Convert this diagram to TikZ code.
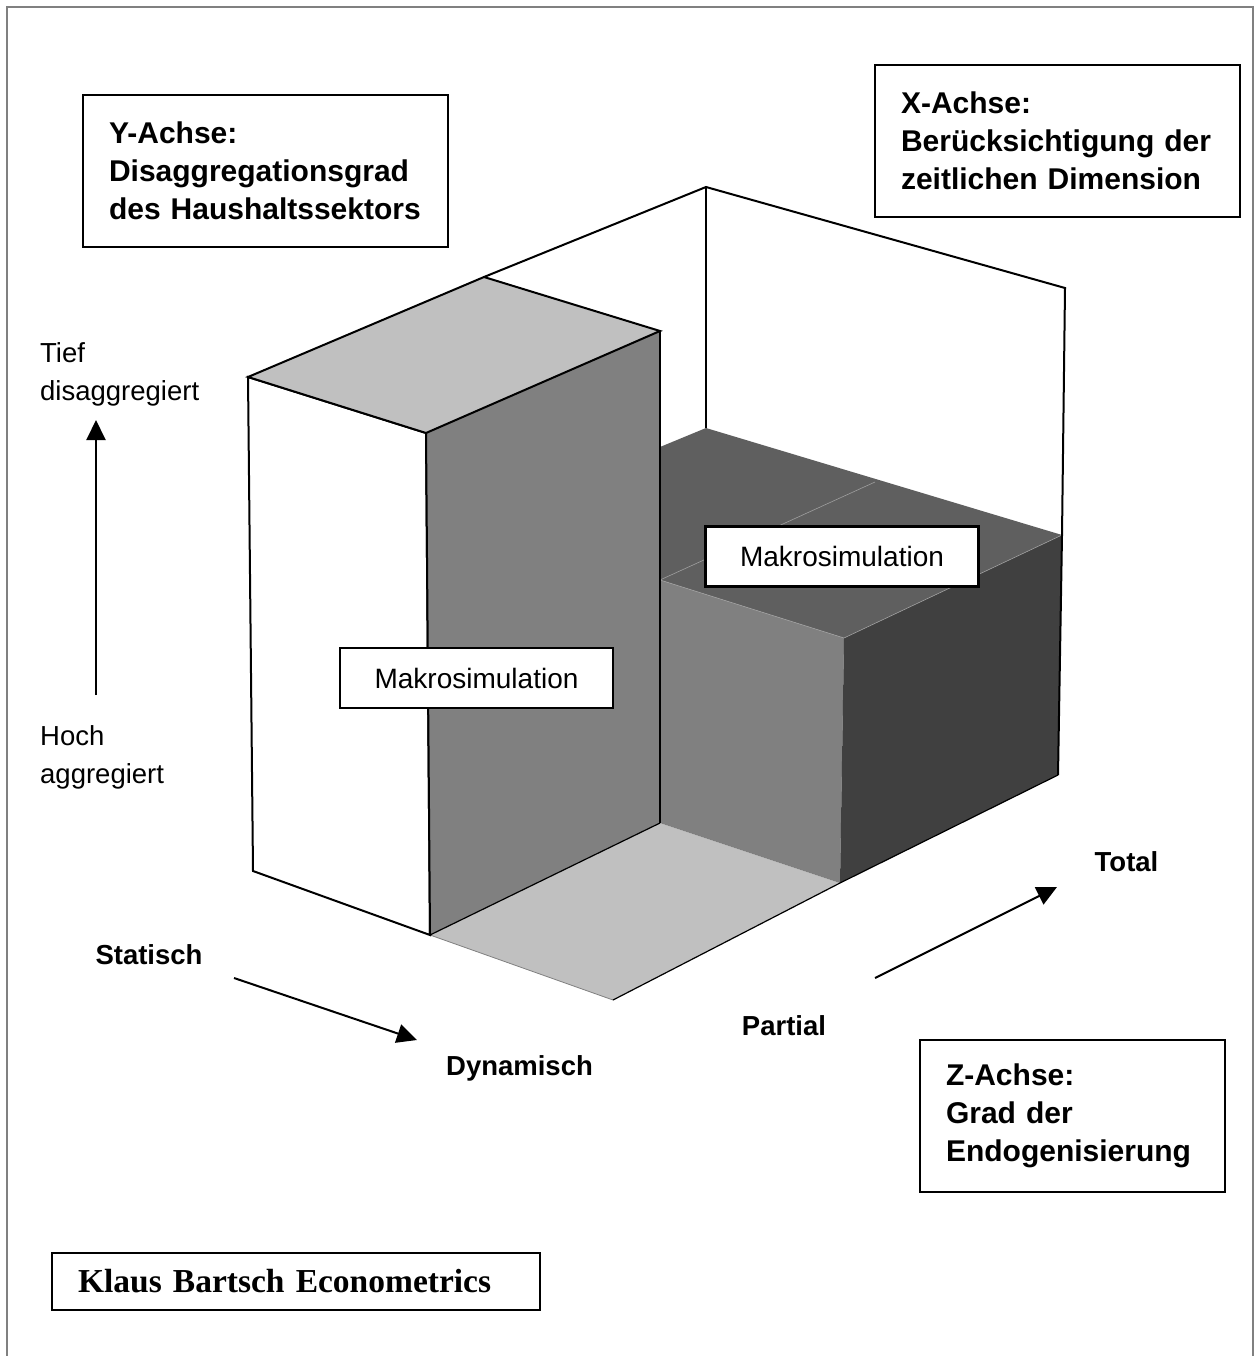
\documentclass[tikz,border=0pt]{standalone}
\usepackage{fontspec}
\setmainfont{Liberation Sans}
\newfontfamily\signfont{Liberation Serif}
\usetikzlibrary{arrows.meta, positioning}
\definecolor{lightface}{HTML}{C0C0C0}
\definecolor{midface}{HTML}{808080}
\definecolor{topface}{HTML}{5F5F5F}
\definecolor{darkface}{HTML}{404040}
\tikzset{
	>={Triangle[length=20pt, width=19pt]},
	axisbox/.style={draw, line width=2.5pt, align=left, minimum height=152pt, inner xsep=26pt,
		font=\fontsize{30}{38}\selectfont\bfseries},
	simbox/.style={draw, fill=white, line width=2.5pt, minimum width=273pt, minimum height=60pt,
		font=\fontsize{28}{34}\selectfont},
	axislabel/.style={inner sep=0pt, font=\fontsize{27.5}{38}\selectfont\bfseries},
	levellabel/.style={inner sep=0pt, anchor=west, align=left, font=\fontsize{27.5}{38}\selectfont},
	axisarrow/.style={->, line width=2pt},
	cubeedge/.style={line width=2pt, line join=miter},
	thinedge/.style={line width=1.2pt},
}

\begin{document}
\begin{tikzpicture}[x=1pt, y=-1pt]
	\useasboundingbox (0,0) rectangle (1255,1356);
	\draw[gray, line width=1.5pt] (7,1356) -- (7,7) -- (1253,7) -- (1253,1356);
	
	% corners
	\coordinate (apex) at (706,187);
	\coordinate (wallR) at (1065,288);
	\coordinate (wallL) at (484,277);
	\coordinate (tallFTL) at (248,377);
	\coordinate (tallFTR) at (426,433);
	\coordinate (tallFBL) at (253,871);
	\coordinate (tallFBR) at (430,935);
	\coordinate (tallBTR) at (660,331);
	\coordinate (tallSBR) at (660,823);
	\coordinate (blkHid) at (660,447);
	\coordinate (blkBack) at (706,428);
	\coordinate (blkTR) at (1062,535);
	\coordinate (blkTF) at (844,638);
	\coordinate (blkTL) at (660,580);
	\coordinate (blkMid) at (875,482);
	\coordinate (blkBF) at (840,883);
	\coordinate (blkBR) at (1058,775);
	\coordinate (floorF) at (613,1000);
	
	% floor and block
	\fill[lightface] (tallFBR) -- (tallSBR) -- (blkBF) -- (floorF) -- cycle;
	\fill[topface] (blkHid) -- (blkBack) -- (blkTR) -- (blkTF) -- (blkTL) -- cycle;
	\fill[midface] (blkTL) -- (blkTF) -- (blkBF) -- (tallSBR) -- cycle;
	\fill[darkface] (blkTF) -- (blkTR) -- (blkBR) -- (blkBF) -- cycle;
	\draw[gray!75, line width=0.6pt] (blkMid) -- (blkTL) -- (blkTF) -- (blkTR);
	\draw[gray, line width=0.8pt] (tallFBR) -- (floorF);
	\draw[thinedge] (floorF) -- (blkBF) -- (blkBR);
	
	% back wall
	\draw[cubeedge] (wallL) -- (apex) -- (wallR) -- (blkTR) -- (blkBR);
	\draw[cubeedge] (apex) -- (blkBack);
	
	% tall box
	\filldraw[fill=white, cubeedge] (tallFTL) -- (tallFTR) -- (tallFBR) -- (tallFBL) -- cycle;
	\fill[midface] (tallFTR) -- (tallBTR) -- (tallSBR) -- (tallFBR) -- cycle;
	\filldraw[fill=lightface, cubeedge] (tallFTL) -- (wallL) -- (tallBTR) -- (tallFTR) -- cycle;
	\draw[cubeedge] (tallFTR) -- (tallFBR);
	\draw[cubeedge] (tallBTR) -- (tallSBR);
	\draw[thinedge] (tallFBR) -- (tallSBR);
	
	% labels
	\node[simbox] (makroA) at (476.5,678) {Makrosimulation};
	\node[simbox] (makroB) at (842,556.5) {Makrosimulation};
	
	\node[axisbox, text width=313pt] (yaxis) at (265.5,171) {Y-Achse:\\Disaggregationsgrad\\des Haushaltssektors};
	\node[axisbox, text width=313pt] (xaxis) at (1057.5,141) {X-Achse:\\Berücksichtigung der\\zeitlichen Dimension};
	\node[axisbox, text width=253pt] (zaxis) at (1072.5,1116) {Z-Achse:\\Grad der\\Endogenisierung};
	\node[draw, line width=2.5pt, text width=436pt, inner xsep=26pt, minimum height=57pt, align=left,
		font=\signfont\fontsize{33.5}{40}\selectfont\bfseries] (sign) at (296,1281.5) {Klaus Bartsch Econometrics};
	
	\node[levellabel] (tief) at (40,374) {Tief\\disaggregiert};
	\node[levellabel] (hoch) at (40,757) {Hoch\\aggregiert};
	\coordinate (yfrom) at (96,695);
	\coordinate (yto) at (96,420);
	\draw[axisarrow] (yfrom) -- (yto);
	
	\node[axislabel] (stat) at (149,955) {Statisch};
	\node[axislabel] (dyn) at (519.5,1068) {Dynamisch};
	\coordinate (xfrom) at (234,978);
	\coordinate (xto) at (417,1040);
	\draw[axisarrow] (xfrom) -- (xto);
	
	\node[axislabel] (part) at (784,1026) {Partial};
	\node[axislabel] (tot) at (1126.5,862) {Total};
	\coordinate (zfrom) at (875,978);
	\coordinate (zto) at (1057,887);
	\draw[axisarrow] (zfrom) -- (zto);
\end{tikzpicture}
\end{document}
